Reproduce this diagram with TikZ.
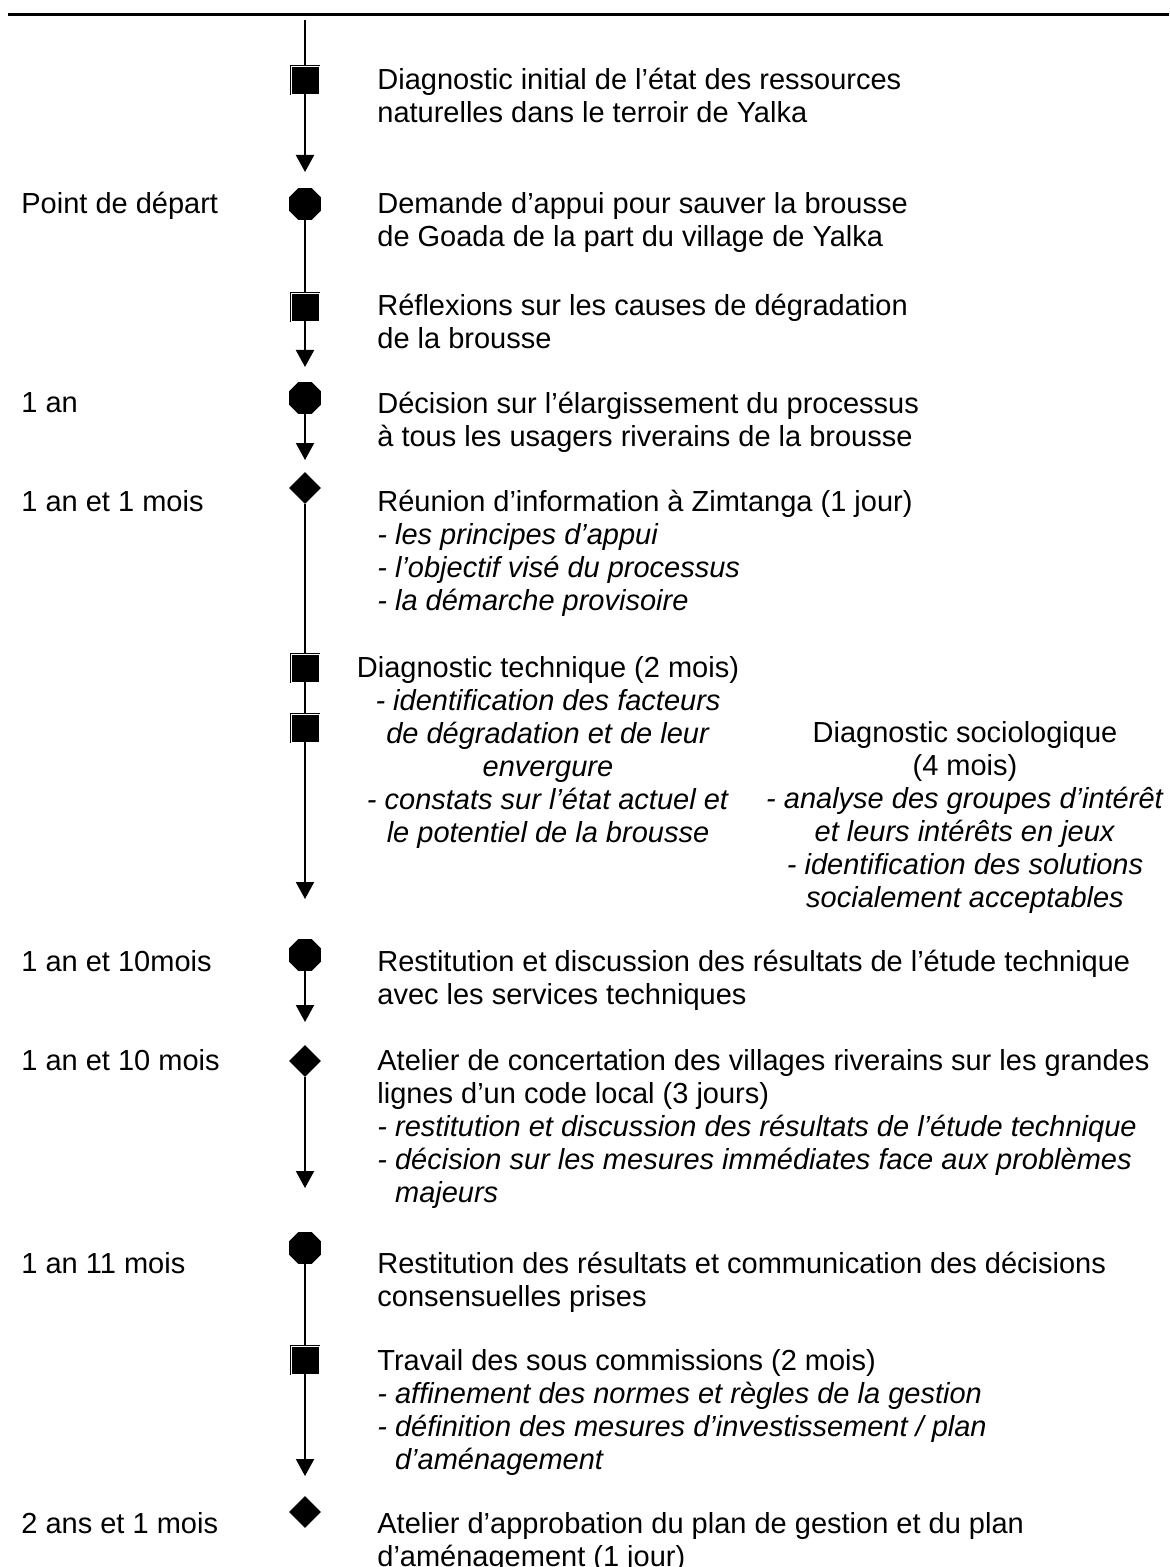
\documentclass[tikz,border=0pt]{standalone}
\usepackage{fontspec}
\setmainfont{Liberation Sans}
\usetikzlibrary{shapes,arrows,arrows.meta}
\tikzstyle{sqmark} = [rectangle, draw, fill=black, double=white,
    double distance=0.4pt, line width=0.4pt, minimum size=14pt, inner sep=0pt]
\tikzstyle{octmark} = [regular polygon, regular polygon sides=8, fill=black,
    minimum size=17.3pt, inner sep=0pt]
\tikzstyle{diamark} = [diamond, fill=black, minimum width=16pt,
    minimum height=16pt, inner sep=0pt]
\tikzstyle{line} = [draw, line width=1pt]
\tikzstyle{arrow} = [draw, line width=1pt, -{Triangle[length=8.5pt,width=9pt]}]
\tikzstyle{event} = [anchor=north west, inner sep=0pt, align=left]
\tikzstyle{period} = [anchor=north west, inner sep=0pt]
\tikzstyle{study} = [anchor=north, inner sep=0pt, align=center]

\begin{document}
\begin{tikzpicture}[x=0.5pt, y=-0.5pt, font=\fontsize{14.5pt}{16.5pt}\selectfont]
    \useasboundingbox (0,0) rectangle (1169,1567);
    \draw [line width=1.5pt] (8,15) -- (1169,15);
    % markers on the time line
    \node [sqmark] (diaginit) at (305,80) {};
    \node [octmark] (demande) at (305,204) {};
    \node [sqmark] (reflex) at (305,307) {};
    \node [octmark] (decision) at (305,398) {};
    \node [diamark] (reunion) at (305,488) {};
    \node [sqmark] (diagtech) at (305,668) {};
    \node [sqmark] (diagsocio) at (305,728) {};
    \node [octmark] (restit) at (305,955) {};
    \node [diamark] (atelier) at (305,1061) {};
    \node [octmark] (commun) at (305,1248) {};
    \node [sqmark] (souscom) at (305,1360) {};
    \node [diamark] (approb) at (305,1512) {};
    \coordinate (start) at (305,20);
    \coordinate (t1) at (305,172);
    \coordinate (t2) at (305,367);
    \coordinate (t3) at (305,460);
    \coordinate (t4) at (305,899);
    \coordinate (t5) at (305,1022);
    \coordinate (t6) at (305,1188);
    \coordinate (t7) at (305,1476);
    \path [line] (start) -- (diaginit);
    \path [arrow] (diaginit) -- (t1);
    \path [line] (demande) -- (reflex);
    \path [arrow] (reflex) -- (t2);
    \path [arrow] (decision) -- (t3);
    \path [line] (reunion) -- (diagtech);
    \path [line] (diagtech) -- (diagsocio);
    \path [arrow] (diagsocio) -- (t4);
    \path [arrow] (restit) -- (t5);
    \path [arrow] (atelier) -- (t6);
    \path [line] (commun) -- (souscom);
    \path [arrow] (souscom) -- (t7);
    % durations
    \node [period] (p1) at (21,192) {Point de départ};
    \node [period] (p2) at (21,392) {1 an};
    \node [period] (p3) at (21,490) {1 an et 1 mois};
    \node [period] (p4) at (21,950) {1 an et 10mois};
    \node [period] (p5) at (21,1049) {1 an et 10 mois};
    \node [period] (p6) at (21,1252) {1 an 11 mois};
    \node [period] (p7) at (21,1512) {2 ans et 1 mois};
    % steps
    \node [event] (e1) at (377,68) {Diagnostic initial de l’état des ressources\\
        naturelles dans le terroir de Yalka};
    \node [event] (e2) at (377,192) {Demande d’appui pour sauver la brousse\\
        de Goada de la part du village de Yalka};
    \node [event] (e3) at (377,294) {Réflexions sur les causes de dégradation\\
        de la brousse};
    \node [event] (e4) at (377,392) {Décision sur l’élargissement du processus\\
        à tous les usagers riverains de la brousse};
    \node [event] (e5) at (377,490) {Réunion d’information à Zimtanga (1 jour)\\
        \textit{- les principes d’appui}\\
        \textit{- l’objectif visé du processus}\\
        \textit{- la démarche provisoire}};
    \node [study] (s1) at (548,656) {Diagnostic technique (2 mois)\\
        \textit{- identification des facteurs}\\
        \textit{de dégradation et de leur}\\
        \textit{envergure}\\
        \textit{- constats sur l’état actuel et}\\
        \textit{le potentiel de la brousse}};
    \node [study] (s2) at (965,721) {Diagnostic sociologique\\
        (4 mois)\\
        \textit{- analyse des groupes d’intérêt}\\
        \textit{et leurs intérêts en jeux}\\
        \textit{- identification des solutions}\\
        \textit{socialement acceptables}};
    \node [event] (e6) at (377,950) {Restitution et discussion des résultats de l’étude technique\\
        avec les services techniques};
    \node [event] (e7) at (377,1049) {Atelier de concertation des villages riverains sur les grandes\\
        lignes d’un code local (3 jours)\\
        \textit{- restitution et discussion des résultats de l’étude technique}\\
        \textit{- décision sur les mesures immédiates face aux problèmes}\\
        \textit{\phantom{- }majeurs}};
    \node [event] (e8) at (377,1252) {Restitution des résultats et communication des décisions\\
        consensuelles prises};
    \node [event] (e9) at (377,1349) {Travail des sous commissions (2 mois)\\
        \textit{- affinement des normes et règles de la gestion}\\
        \textit{- définition des mesures d’investissement / plan}\\
        \textit{\phantom{- }d’aménagement}};
    \node [event] (e10) at (377,1512) {Atelier d’approbation du plan de gestion et du plan\\
        d’aménagement (1 jour)};
\end{tikzpicture}
\end{document}
